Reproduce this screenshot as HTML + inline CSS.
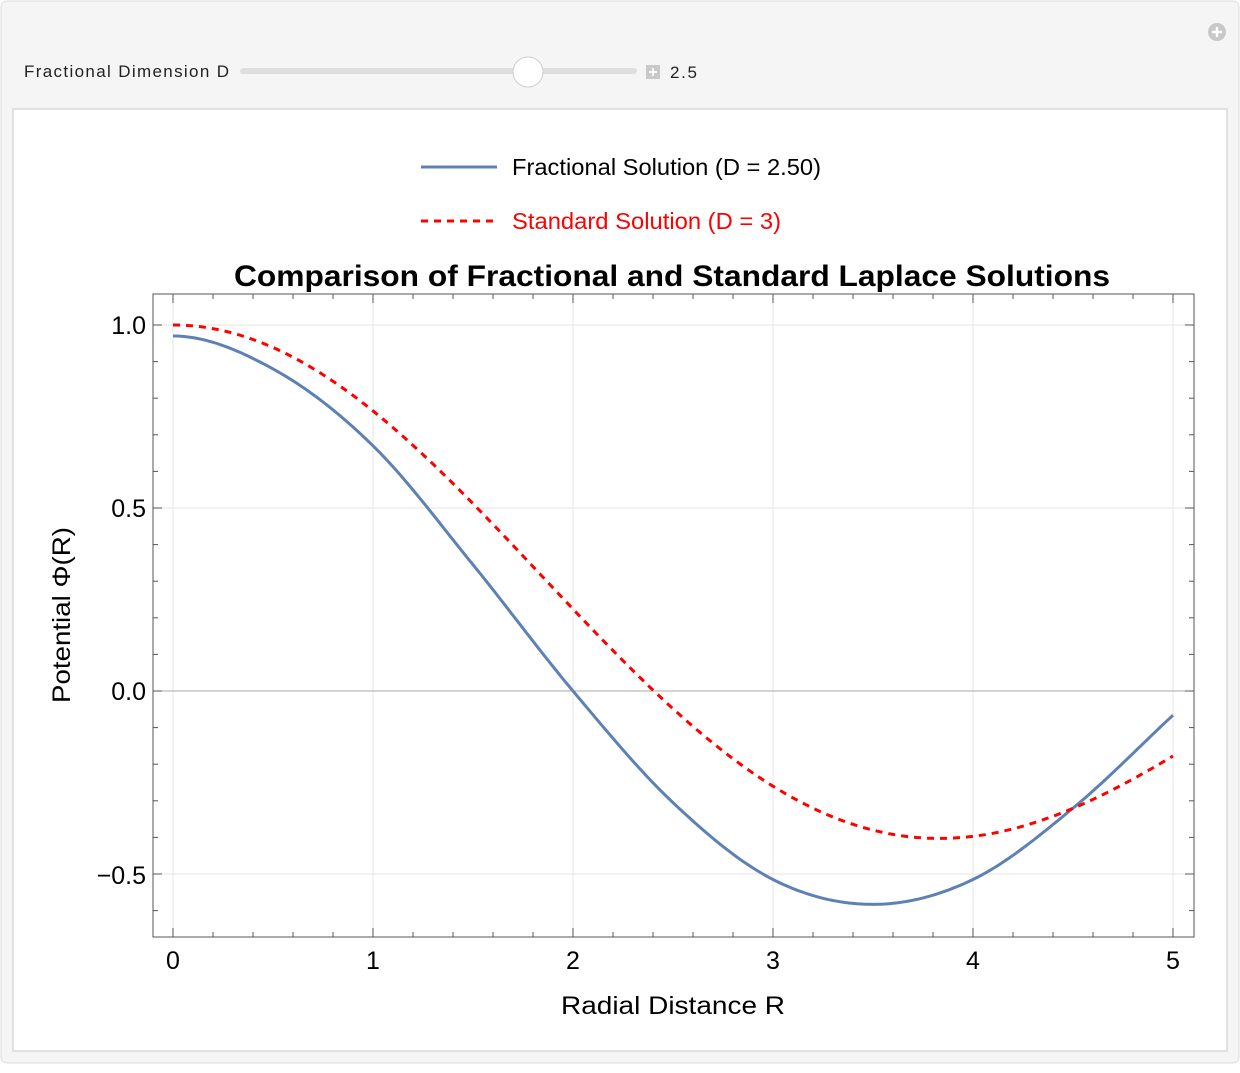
<!DOCTYPE html>
<html><head><meta charset="utf-8"><style>
body{margin:0;width:1240px;height:1068px;background:#fff;font-family:"Liberation Sans",sans-serif;overflow:hidden}
</style></head><body>
<svg id="s" width="1240" height="1068" xmlns="http://www.w3.org/2000/svg" font-family="Liberation Sans, sans-serif">
<rect x="1" y="1" width="1238" height="1062" rx="6" fill="#f5f5f5" stroke="#dcdcdc"/>
<circle cx="1217" cy="32" r="9" fill="#c8c8c8"/>
<path d="M1212 32h10M1217 27v10" stroke="#fff" stroke-width="2.5"/>
<text x="24" y="77" font-size="17" fill="#222" textLength="205" lengthAdjust="spacing">Fractional Dimension D</text>
<rect x="240" y="68" width="397" height="6" rx="3" fill="#dedede"/>
<circle cx="528" cy="72" r="15" fill="#fff" stroke="#cfcfcf"/>
<rect x="646" y="65" width="14" height="14" fill="#c9c9c9"/>
<path d="M649 72h8M653 68v8" stroke="#fff" stroke-width="1.8"/>
<text x="670" y="78" font-size="17" fill="#222" textLength="27" lengthAdjust="spacing">2.5</text>
<rect x="13" y="109" width="1214" height="942" fill="#fff" stroke="#c8c8c8"/>
<line x1="421" y1="167" x2="497" y2="167" stroke="#5e81b5" stroke-width="3"/>
<text x="512" y="175" font-size="23" fill="#000" textLength="309" lengthAdjust="spacingAndGlyphs">Fractional Solution (D = 2.50)</text>
<line x1="421" y1="221" x2="497" y2="221" stroke="#f00" stroke-width="3" stroke-dasharray="7,6"/>
<text x="512" y="229" font-size="23" fill="#f00" textLength="269" lengthAdjust="spacingAndGlyphs">Standard Solution (D = 3)</text>
<text x="234" y="286" font-size="30" font-weight="bold" textLength="876" lengthAdjust="spacingAndGlyphs">Comparison of Fractional and Standard Laplace Solutions</text>
<g id="grid"></g>
<rect x="153" y="294" width="1041" height="643" fill="none" stroke="#555"/>
<g id="ticks" stroke="#555"></g>
<g font-size="25" fill="#000">
<text x="173" y="969" text-anchor="middle">0</text><text x="373" y="969" text-anchor="middle">1</text>
<text x="573" y="969" text-anchor="middle">2</text><text x="773" y="969" text-anchor="middle">3</text>
<text x="973" y="969" text-anchor="middle">4</text><text x="1173" y="969" text-anchor="middle">5</text>
<text x="146" y="334" text-anchor="end">1.0</text><text x="146" y="517" text-anchor="end">0.5</text>
<text x="146" y="700" text-anchor="end">0.0</text><text x="146" y="884" text-anchor="end">−0.5</text>
</g>
<text x="561" y="1014" font-size="25" textLength="224" lengthAdjust="spacingAndGlyphs">Radial Distance R</text>
<text transform="translate(70,703) rotate(-90)" font-size="25" textLength="176" lengthAdjust="spacingAndGlyphs">Potential Φ(R)</text>
<path id="blue" fill="none" stroke="#5e81b5" stroke-width="3"/>
<path id="red" fill="none" stroke="#f00" stroke-width="3" stroke-dasharray="7,6"/>
</svg>
<script>
var X=r=>173+200*r, Y=v=>691-366*v;
var g='',t='';
for(var i=0;i<=5;i++)g+='<line x1="'+X(i)+'" y1="294" x2="'+X(i)+'" y2="937" stroke="#e6e6e6"/>';
[1,0.5,-0.5].forEach(v=>g+='<line x1="153" y1="'+Y(v)+'" x2="1194" y2="'+Y(v)+'" stroke="#e6e6e6"/>');
g+='<line x1="153" y1="691" x2="1194" y2="691" stroke="#aaa"/>';
document.getElementById('grid').innerHTML=g;
for(var k=-1;k<=26;k++){var x=X(k*0.2);if(x<153||x>1194)continue;var L=k%5==0?9:5;
t+='<line x1="'+x+'" y1="937" x2="'+x+'" y2="'+(937-L)+'"/><line x1="'+x+'" y1="294" x2="'+x+'" y2="'+(294+L)+'"/>';}
for(var k=-7;k<=11;k++){var y=Y(k*0.1);if(y<294||y>937)continue;var L=k%5==0?9:5;
t+='<line x1="153" y1="'+y+'" x2="'+(153+L)+'" y2="'+y+'"/><line x1="1194" y1="'+y+'" x2="'+(1194-L)+'" y2="'+y+'"/>';}
document.getElementById('ticks').innerHTML=t;
function J0(x){var s=0,term=1;for(var k=0;k<40;k++){if(k>0)term*=-(x*x/4)/(k*k);s+=term;}return s;}
var d='';for(var r=0;r<=5.0001;r+=0.02)d+=(r?'L':'M')+X(r).toFixed(1)+' '+Y(J0(r)).toFixed(1);
document.getElementById('red').setAttribute('d',d);
var P=[[0,0.97],[0.5,0.88],[1,0.67],[1.5,0.345],[2,0],[2.5,-0.305],[3,-0.515],[3.5,-0.583],[4,-0.515],[4.5,-0.32],[5,-0.066]];
function cr(r){var i=Math.min(Math.floor(r/0.5),9),u=r/0.5-i;
var p1=P[i][1],p2=P[i+1][1];
var p0=i>0?P[i-1][1]:P[1][1];
var p3=i+2<=10?P[i+2][1]:2*p2-p1;
return 0.5*((2*p1)+(-p0+p2)*u+(2*p0-5*p1+4*p2-p3)*u*u+(-p0+3*p1-3*p2+p3)*u*u*u);}
d='';for(var r=0;r<=5.0001;r+=0.02)d+=(r?'L':'M')+X(r).toFixed(1)+' '+Y(cr(Math.min(r,5))).toFixed(1);
document.getElementById('blue').setAttribute('d',d);
</script>
</body></html>
